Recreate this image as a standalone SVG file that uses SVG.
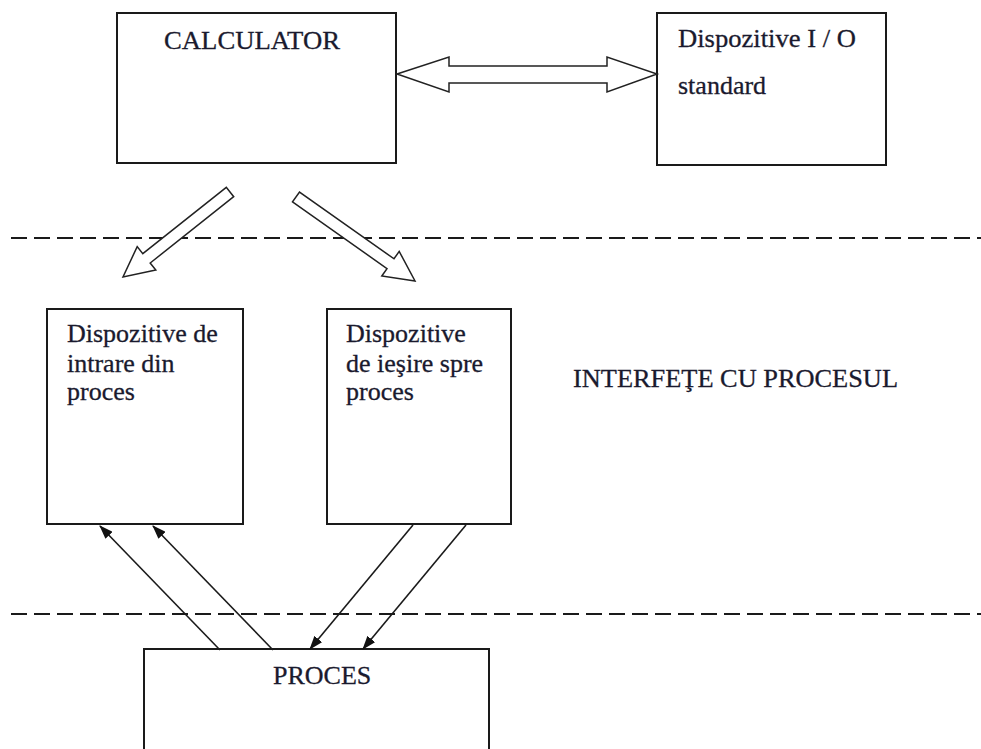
<svg xmlns="http://www.w3.org/2000/svg" width="981" height="749" viewBox="0 0 981 749">
  <defs>
    <style>
      .box { fill: #ffffff; stroke: #1a1a1a; stroke-width: 2; }
      .lbl { font-family: "Liberation Serif", "Times New Roman", serif; font-size: 26px; fill: #1a1a2e; stroke: #1a1a2e; stroke-width: 0.3; }
      .sep { stroke: #1a1a1a; stroke-width: 2; stroke-dasharray: 16 7; fill: none; }
      .block { fill: #ffffff; stroke: #222222; stroke-width: 1.5; stroke-linejoin: miter; }
      .thin { stroke: #1a1a1a; stroke-width: 1.6; fill: none; marker-end: url(#head); }
    </style>
    <marker id="head" viewBox="0 0 14 10" refX="13" refY="5" markerWidth="14" markerHeight="10" markerUnits="userSpaceOnUse" orient="auto">
      <path d="M0,0 L14,5 L0,10 Z" fill="#111111"/>
    </marker>
  </defs>

  <rect width="981" height="749" fill="#ffffff"/>

  <!-- zone separators -->
  <line class="sep" x1="11" y1="238" x2="981" y2="238"/>
  <line class="sep" x1="11" y1="614" x2="981" y2="614"/>

  <g id="calculator">
    <rect class="box" x="117" y="13" width="279" height="150"/>
    <text class="lbl" x="164" y="49" textLength="176" lengthAdjust="spacingAndGlyphs">CALCULATOR</text>
  </g>

  <g id="io-standard">
    <rect class="box" x="657" y="13" width="229" height="152"/>
    <text class="lbl" x="678" y="47" textLength="178" lengthAdjust="spacingAndGlyphs">Dispozitive I / O</text>
    <text class="lbl" x="678" y="94">standard</text>
  </g>

  <g id="intrari">
    <rect class="box" x="47" y="309" width="196" height="215"/>
    <text class="lbl" x="67" y="342">Dispozitive de</text>
    <text class="lbl" x="67" y="372">intrare din</text>
    <text class="lbl" x="67" y="400">proces</text>
  </g>

  <g id="iesiri">
    <rect class="box" x="327" y="309" width="184" height="215"/>
    <text class="lbl" x="346" y="342">Dispozitive</text>
    <text class="lbl" x="346" y="372">de ieşire spre</text>
    <text class="lbl" x="346" y="400">proces</text>
  </g>

  <g id="interfete">
    <text class="lbl" x="573" y="387" textLength="325" lengthAdjust="spacingAndGlyphs">INTERFEŢE CU PROCESUL</text>
  </g>

  <g id="proces">
    <path class="box" d="M144,760 V649 H489 V760"/>
    <text class="lbl" x="273" y="684">PROCES</text>
  </g>

  <g id="connectors">
    <!-- bidirectional block arrow between computer and standard I/O -->
    <polygon class="block" points="397,74 449,57 449,66 607,66 607,57 657,74 607,92 607,83 449,83 449,92"/>
    <!-- block arrows from computer down to the interfaces -->
    <polygon class="block" points="233.7,196.7 150.2,263 155.8,270.1 123,277 137.2,246.6 142.8,253.6 226.3,187.3"/>
    <polygon class="block" points="292.5,201.9 387,268.6 381.8,276 415,281 399.2,251.4 394,258.8 299.5,192.1"/>
    <!-- signals from the process to the input devices -->
    <line class="thin" x1="220" y1="650" x2="100" y2="526"/>
    <line class="thin" x1="273" y1="650" x2="153" y2="526"/>
    <!-- commands from the output devices to the process -->
    <line class="thin" x1="413" y1="525" x2="310" y2="649"/>
    <line class="thin" x1="466" y1="525" x2="363" y2="649"/>
  </g>
</svg>
